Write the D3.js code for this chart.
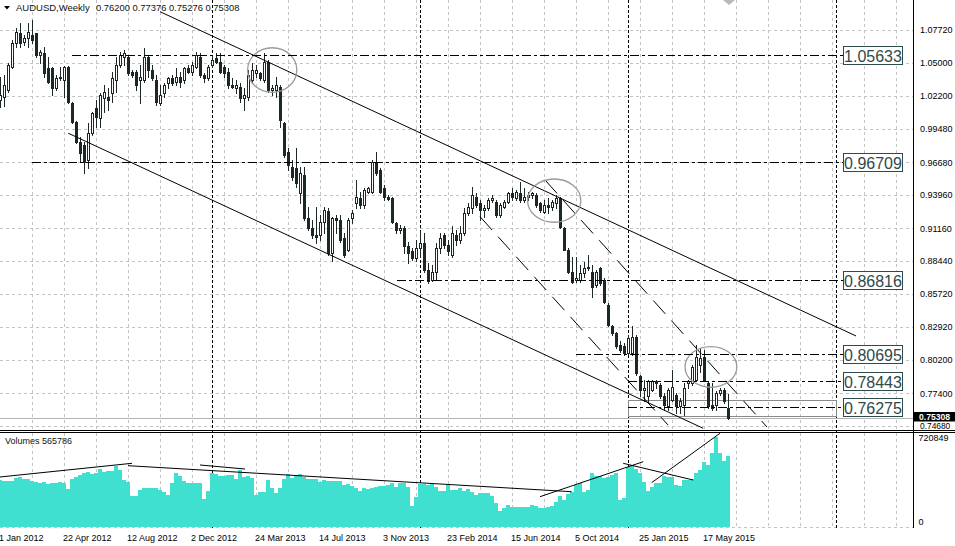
<!DOCTYPE html>
<html><head><meta charset="utf-8">
<script src="https://cdnjs.cloudflare.com/ajax/libs/d3/7.8.5/d3.min.js"></script>
<style>body{margin:0;background:#fff;overflow:hidden}svg{display:block;font-family:"Liberation Sans",Arial,sans-serif}</style>
</head><body><svg id="c" width="955" height="546"></svg>
<script>
// ---- DATA (weekly bars, index 0 = week of 1 Jan 2012) ----
const open=[1.0188,1.0216,1.0271,1.0466,1.0661,1.0744,1.0675,1.0702,1.0730,1.0744,
1.0563,1.0577,1.0452,1.0452,1.0285,1.0369,1.0355,1.0466,1.0160,1.0007,
0.9840,0.9813,0.9688,0.9910,1.0118,1.0035,1.0202,1.0216,1.0244,1.0355,
1.0480,1.0549,1.0549,1.0424,1.0424,1.0355,1.0355,1.0549,1.0438,1.0355,
1.0160,1.0244,1.0327,1.0369,1.0341,1.0383,1.0355,1.0452,1.0424,1.0466,
1.0549,1.0397,1.0369,1.0480,1.0536,1.0508,1.0466,1.0424,1.0313,1.0285,
1.0299,1.0202,1.0216,1.0355,1.0410,1.0410,1.0355,1.0508,1.0271,1.0275,
1.0299,0.9993,0.9757,0.9632,0.9618,0.9410,0.9563,0.9201,0.9118,0.9062,
0.9062,0.9173,0.9257,0.8909,0.9201,0.9187,0.9034,0.8937,0.9201,0.9326,
0.9368,0.9312,0.9423,0.9423,0.9674,0.9604,0.9451,0.9382,0.9368,0.9159,
0.9104,0.9118,0.8965,0.8923,0.8867,0.8951,0.8993,0.8770,0.8687,0.8756,
0.8951,0.9062,0.8979,0.8895,0.9062,0.9020,0.9076,0.9243,0.9284,0.9382,
0.9326,0.9270,0.9284,0.9354,0.9339,0.9228,0.9298,0.9339,0.9409,0.9367,
0.9409,0.9353,0.9381,0.9395,0.9395,0.9325,0.9256,0.9312,0.9298,0.9325,
0.9367,0.9117,0.8936,0.8756,0.8686,0.8686,0.8742,0.8783,0.8756,0.8644,
0.8783,0.8686,0.8477,0.8297,0.8241,0.8144,0.8130,0.8074,0.8074,0.8213,
0.7880,0.7769,0.7713,0.7769,0.7838,0.7810,0.7713,0.7630,0.7685,0.7727,
0.7630,0.7644,0.7824,0.7824,0.7852,0.7977,0.8046,0.7824,0.7644,0.7644,
0.7741,0.7769,0.76200];
const high=[1.0377,1.0397,1.0494,1.0688,1.0786,1.0833,1.0730,1.0827,1.0855,1.0750,
1.0605,1.0633,1.0549,1.0466,1.0397,1.0466,1.0470,1.0475,1.0170,1.0015,
0.9882,0.9840,0.9993,1.0091,1.0188,1.0244,1.0313,1.0285,1.0424,1.0549,
1.0591,1.0605,1.0563,1.0438,1.0438,1.0480,1.0619,1.0563,1.0480,1.0397,
1.0313,1.0327,1.0383,1.0397,1.0452,1.0424,1.0466,1.0480,1.0508,1.0591,
1.0577,1.0410,1.0480,1.0563,1.0577,1.0577,1.0480,1.0452,1.0369,1.0355,
1.0327,1.0285,1.0438,1.0494,1.0480,1.0424,1.0577,1.0522,1.0313,1.0377,
1.0313,1.0007,0.9785,0.9688,0.9785,0.9632,0.9632,0.9298,0.9187,0.9298,
0.9229,0.9298,0.9284,0.9215,0.9229,0.9229,0.9076,0.9201,0.9270,0.9521,
0.9423,0.9451,0.9465,0.9688,0.9757,0.9618,0.9479,0.9396,0.9382,0.9173,
0.9145,0.9132,0.9006,0.8951,0.9020,0.9090,0.9076,0.8826,0.8812,0.8993,
0.9076,0.9076,0.9020,0.9132,0.9104,0.9132,0.9284,0.9326,0.9465,0.9410,
0.9354,0.9312,0.9368,0.9396,0.9353,0.9325,0.9353,0.9423,0.9450,0.9437,
0.9506,0.9450,0.9423,0.9423,0.9409,0.9339,0.9353,0.9367,0.9353,0.9395,
0.9381,0.9131,0.8950,0.8881,0.8881,0.8811,0.8839,0.8895,0.8811,0.8769,
0.8797,0.8700,0.8491,0.8311,0.8255,0.8172,0.8158,0.8227,0.8297,0.8227,
0.7894,0.7852,0.7852,0.7852,0.7852,0.7824,0.7741,0.7783,0.7935,0.7741,
0.7699,0.7824,0.7852,0.7977,0.8144,0.8116,0.8101,0.7838,0.7824,0.7755,
0.7783,0.7783,0.77376];
const low=[1.0132,1.0138,1.0257,1.0452,1.0633,1.0633,1.0647,1.0633,1.0661,1.0550,
1.0494,1.0383,1.0327,1.0230,1.0271,1.0355,1.0216,1.0160,0.9993,0.9830,
0.9674,0.9576,0.9618,0.9896,0.9966,0.9966,1.0091,1.0105,1.0174,1.0257,
1.0466,1.0480,1.0397,1.0383,1.0271,1.0160,1.0341,1.0383,1.0355,1.0146,
1.0146,1.0216,1.0285,1.0313,1.0313,1.0299,1.0327,1.0410,1.0397,1.0452,
1.0383,1.0341,1.0355,1.0466,1.0494,1.0410,1.0383,1.0285,1.0285,1.0244,
1.0174,1.0105,1.0188,1.0327,1.0383,1.0355,1.0341,1.0257,1.0230,1.0216,
0.9966,0.9715,0.9604,0.9521,0.9465,0.9326,0.9187,0.9104,0.9034,0.8993,
0.9020,0.9076,0.8895,0.8840,0.9076,0.9006,0.8881,0.8923,0.9159,0.9284,
0.9284,0.9284,0.9410,0.9410,0.9563,0.9410,0.9354,0.9354,0.9159,0.9076,
0.9076,0.8909,0.8826,0.8854,0.8840,0.8881,0.8756,0.8659,0.8673,0.8687,
0.8909,0.8951,0.8895,0.8881,0.8979,0.8993,0.9062,0.9229,0.9243,0.9298,
0.9187,0.9215,0.9270,0.9340,0.9214,0.9214,0.9284,0.9325,0.9353,0.9353,
0.9339,0.9339,0.9353,0.9367,0.9298,0.9256,0.9242,0.9242,0.9270,0.9284,
0.9117,0.8936,0.8742,0.8658,0.8672,0.8672,0.8714,0.8769,0.8547,0.8630,
0.8644,0.8491,0.8297,0.8227,0.8116,0.8088,0.8060,0.8060,0.8060,0.7894,
0.7713,0.7671,0.7657,0.7755,0.7783,0.7699,0.7602,0.7602,0.7671,0.7574,
0.7574,0.7560,0.7783,0.7810,0.7838,0.7921,0.7838,0.7616,0.7602,0.7602,
0.7727,0.7657,0.75276];
const close=[1.0230,1.0313,1.0480,1.0661,1.0758,1.0661,1.0702,1.0758,1.0688,1.0563,
1.0591,1.0410,1.0341,1.0285,1.0369,1.0383,1.0466,1.0174,1.0007,0.9840,
0.9743,0.9674,0.9910,1.0077,1.0049,1.0230,1.0257,1.0188,1.0369,1.0480,
1.0563,1.0577,1.0410,1.0397,1.0313,1.0383,1.0549,1.0438,1.0369,1.0174,
1.0230,1.0313,1.0369,1.0327,1.0383,1.0341,1.0452,1.0424,1.0480,1.0563,
1.0397,1.0369,1.0466,1.0522,1.0508,1.0424,1.0410,1.0313,1.0299,1.0313,
1.0202,1.0230,1.0397,1.0438,1.0438,1.0369,1.0508,1.0271,1.0285,1.0313,
1.0021,0.9729,0.9646,0.9549,0.9493,0.9576,0.9201,0.9118,0.9062,0.9048,
0.9173,0.9270,0.8909,0.9201,0.9187,0.9020,0.8895,0.9187,0.9243,0.9382,
0.9312,0.9437,0.9451,0.9674,0.9576,0.9423,0.9382,0.9360,0.9173,0.9104,
0.9118,0.8965,0.8909,0.8867,0.8951,0.8993,0.8770,0.8673,0.8756,0.8951,
0.9034,0.8979,0.8923,0.9076,0.9020,0.9076,0.9243,0.9298,0.9396,0.9312,
0.9270,0.9284,0.9354,0.9368,0.9228,0.9312,0.9339,0.9409,0.9381,0.9423,
0.9353,0.9381,0.9395,0.9409,0.9312,0.9270,0.9312,0.9298,0.9339,0.9367,
0.9131,0.8936,0.8756,0.8672,0.8700,0.8742,0.8783,0.8797,0.8630,0.8756,
0.8658,0.8505,0.8311,0.8241,0.8130,0.8101,0.8074,0.8200,0.8213,0.7907,
0.7769,0.7783,0.7838,0.7838,0.7824,0.7713,0.7644,0.7769,0.7796,0.7630,
0.7671,0.7783,0.7838,0.7963,0.8046,0.8032,0.7852,0.7630,0.7616,0.7741,
0.7769,0.7671,0.75308];
const volume=[376000,371000,371000,371000,390000,403000,382000,382000,371000,363000,
350000,360000,344000,350000,350000,363000,355000,302000,382000,398000,
417000,430000,443000,422000,430000,462000,443000,451000,451000,489000,
457000,376000,363000,248000,248000,296000,310000,310000,315000,310000,
296000,283000,256000,350000,430000,408000,371000,355000,350000,355000,
350000,222000,291000,430000,424000,408000,408000,417000,417000,382000,
457000,403000,408000,390000,256000,283000,283000,376000,310000,275000,
310000,382000,424000,390000,417000,422000,403000,382000,382000,382000,
363000,376000,368000,368000,368000,371000,336000,344000,328000,310000,
291000,310000,302000,310000,318000,328000,328000,336000,350000,323000,
355000,350000,323000,168000,238000,344000,344000,336000,350000,318000,
291000,291000,344000,296000,296000,310000,291000,302000,283000,256000,
270000,270000,270000,248000,195000,131000,150000,176000,163000,158000,
158000,158000,158000,176000,168000,150000,150000,158000,168000,203000,
248000,216000,264000,283000,336000,350000,283000,296000,430000,408000,
408000,390000,403000,417000,435000,216000,230000,483000,497000,462000,
430000,363000,291000,323000,350000,355000,408000,403000,398000,336000,
328000,376000,376000,382000,435000,457000,523000,497000,595000,720849,
590000,531000,565786];
const priceTicks=[1.0772,1.0500,1.0220,0.9948,0.9668,0.9396,0.9116,0.8844,0.8572,0.8292,0.8020,0.7740,0.7468];
const volumeTicks=[720849,0];
const dateTickWeeks=[0,16,32,48,64,80,96,112,128,144,160,176];
const dateTickLabels=["1 Jan 2012","22 Apr 2012","12 Aug 2012","2 Dec 2012","24 Mar 2013","14 Jul 2013","3 Nov 2013","23 Feb 2014","15 Jun 2014","5 Oct 2014","25 Jan 2015","17 May 2015"];
const levelPrices=[1.05633,0.96709,0.86816,0.80695,0.78443,0.76275];
const levelStartWeeks=[18,8,99.25,144,157,157];
const channelLines=[[40,1.0925,214,0.8218],[17.08,0.9910,175.8,0.7447]];
const dashedLines=[[120,0.9214,167,0.7475],[136.25,0.9520,191.75,0.7458]];
const ellipses=[[61.9,74.2,1.0624,1.0252],[131.9,145.2,0.9528,0.9167],[171.25,184.2,0.8129,0.7790]];
const zoneRect=[157,209,0.7685,0.7554];
const volumeLines=[[0,400472,33,510201],[32,490977,142.9,282733],[50,496585,61.25,464547],[135,242686,160.8,523016],[155.8,510201,173.3,376443],[162.9,354818,180,750484]];
const lastBid=0.75308;

// ---- DRAWING ----
const svg=d3.select("#c");
const AX=913;
const INK="#1c2828";
const x=d3.scaleLinear().domain([0,1]).range([0,4]);
const y=d3.scaleLinear().domain([0.7468,1.0772]).range([425.8,30]);
const yv=d3.scaleLinear().domain([0,720849]).range([527,437]);
const defs=svg.append("defs");
defs.append("clipPath").attr("id","cp").append("rect").attr("x",0).attr("y",0).attr("width",AX).attr("height",430);
defs.append("clipPath").attr("id","cv").append("rect").attr("x",0).attr("y",433).attr("width",AX).attr("height",95);

const grid=svg.append("g").attr("shape-rendering","crispEdges").attr("stroke","#c3c3c3").attr("stroke-dasharray","3,3");
priceTicks.forEach(t=>{const yy=Math.round(y(t))+0.5;grid.append("line").attr("x1",0).attr("x2",AX).attr("y1",yy).attr("y2",yy);});
const gridWeeks=d3.range(8,229,8);
gridWeeks.forEach(w=>{const xx=Math.round(x(w))+0.5;
 grid.append("line").attr("x1",xx).attr("x2",xx).attr("y1",0).attr("y2",430);
 grid.append("line").attr("x1",xx).attr("x2",xx).attr("y1",433).attr("y2",527);});
grid.append("line").attr("x1",0).attr("x2",AX).attr("y1",527.5).attr("y2",527.5);

// year separators
const base=new Date(2012,0,1);
const dOf=w=>d3.timeWeek.offset(base,w);
const sep=svg.append("g").attr("stroke","#000").attr("stroke-dasharray","3,2").attr("shape-rendering","crispEdges");
d3.range(1,229).forEach(w=>{if(dOf(w).getFullYear()!==dOf(w-1).getFullYear()){const xx=Math.round(x(w))+0.5;
 sep.append("line").attr("x1",xx).attr("x2",xx).attr("y1",0).attr("y2",528);}});

// bid line
svg.append("line").attr("x1",0).attr("x2",AX).attr("y1",Math.round(y(lastBid))+0.5).attr("y2",Math.round(y(lastBid))+0.5).attr("stroke","#b4b4b4").attr("shape-rendering","crispEdges");

const gp=svg.append("g").attr("clip-path","url(#cp)");
// zone rectangle
gp.append("rect").attr("x",Math.round(x(zoneRect[0]))+0.5).attr("y",Math.round(y(zoneRect[2]))+0.5)
 .attr("width",Math.round(x(zoneRect[1])-x(zoneRect[0]))).attr("height",Math.round(y(zoneRect[3])-y(zoneRect[2])))
 .attr("fill","none").attr("stroke","#8a8a8a").attr("shape-rendering","crispEdges");

// candles
const cg=gp.append("g").attr("shape-rendering","crispEdges");
open.forEach((o,i)=>{
 const c=close[i];const cx=Math.round(x(i))+0.5;
 cg.append("line").attr("x1",cx).attr("x2",cx).attr("y1",Math.round(y(high[i]))).attr("y2",Math.round(y(low[i]))+1).attr("stroke",INK);
 const top=Math.round(y(Math.max(o,c))),bot=Math.round(y(Math.min(o,c)));
 if(bot-top<1){cg.append("line").attr("x1",cx-1.5).attr("x2",cx+1.5).attr("y1",top+0.5).attr("y2",top+0.5).attr("stroke",INK);}
 else cg.append("rect").attr("x",cx-1).attr("y",top+0.5).attr("width",2).attr("height",bot-top).attr("fill",c>=o?"#fff":INK).attr("stroke",INK);
});

// trend lines
channelLines.forEach(l=>gp.append("line").attr("x1",x(l[0])).attr("y1",y(l[1])).attr("x2",x(l[2])).attr("y2",y(l[3])).attr("stroke","#000").attr("stroke-width",1));
dashedLines.forEach(l=>gp.append("line").attr("x1",x(l[0])).attr("y1",y(l[1])).attr("x2",x(l[2])).attr("y2",y(l[3])).attr("stroke","#000").attr("stroke-dasharray","18,9"));
ellipses.forEach(e=>gp.append("ellipse").attr("cx",(x(e[0])+x(e[1]))/2).attr("cy",(y(e[2])+y(e[3]))/2)
 .attr("rx",(x(e[1])-x(e[0]))/2).attr("ry",(y(e[3])-y(e[2]))/2).attr("fill","none").attr("stroke","#9a9a9a").attr("stroke-width",1.3));

// level lines + labels
levelPrices.forEach((p,i)=>{const yy=Math.round(y(p))+0.5;
 svg.append("line").attr("x1",x(levelStartWeeks[i])).attr("x2",843).attr("y1",yy).attr("y2",yy).attr("stroke","#000").attr("stroke-dasharray","9,3,3,3").attr("shape-rendering","crispEdges");
 svg.append("rect").attr("x",843.5).attr("y",yy-9).attr("width",59).attr("height",18).attr("fill","#fff").attr("stroke","#2f4a4a").attr("shape-rendering","crispEdges");
 svg.append("text").attr("x",873).attr("y",yy+6).attr("text-anchor","middle").attr("font-size",16).attr("fill","#2f4a4a").text(p.toFixed(5));
});

// volumes
const gv=svg.append("g").attr("clip-path","url(#cv)");
gv.selectAll("rect.v").data(volume).enter().append("rect").attr("x",(d,i)=>x(i)-2).attr("width",4)
 .attr("y",d=>Math.round(yv(d))).attr("height",d=>527-Math.round(yv(d))).attr("fill","#40e0d0").attr("shape-rendering","crispEdges");
volumeLines.forEach(l=>gv.append("line").attr("x1",x(l[0])).attr("y1",yv(l[1])).attr("x2",x(l[2])).attr("y2",yv(l[3])).attr("stroke","#000"));

// frames
const fr=svg.append("g").attr("stroke","#000").attr("shape-rendering","crispEdges");
fr.append("line").attr("x1",AX+0.5).attr("x2",AX+0.5).attr("y1",0).attr("y2",528);
fr.append("line").attr("x1",0).attr("x2",955).attr("y1",430.5).attr("y2",430.5);
fr.append("line").attr("x1",0).attr("x2",955).attr("y1",432.5).attr("y2",432.5);

// price axis labels
const fs=9;
priceTicks.forEach((t,i)=>{const last=i===priceTicks.length-1;const yy=last?428.6:y(t)+3.3;
 svg.append("text").attr("x",920).attr("y",yy).attr("font-size",last?8.4:fs).attr("fill","#000").text(t.toFixed(5));});
const by=Math.round(y(lastBid));
svg.append("rect").attr("x",914).attr("y",by-6).attr("width",41).attr("height",9.5).attr("fill","#000");
svg.append("text").attr("x",919).attr("y",by+2.3).attr("font-size",8.6).attr("font-weight","bold").attr("fill","#fff").text(lastBid.toFixed(5));
volumeTicks.forEach(v=>svg.append("text").attr("x",918.5).attr("y",v===0?525:yv(v)+3.5).attr("font-size",fs).attr("fill","#000").text(String(v)));

// date labels
dateTickWeeks.forEach((w,i)=>svg.append("text").attr("x",x(w)-1).attr("y",541).attr("font-size",fs).attr("fill","#000").text(dateTickLabels[i]));

// header
svg.append("path").attr("d","M4,6 L10,6 L7,9.5 Z").attr("fill","#000");
svg.append("text").attr("x",16).attr("y",11).attr("font-size",9.5).attr("fill","#111").text("AUDUSD,Weekly");
svg.append("text").attr("x",96).attr("y",11).attr("font-size",9.4).attr("fill","#111").text([open[182],high[182],low[182],close[182]].map(v=>v.toFixed(5)).join(" "));
svg.append("text").attr("x",5).attr("y",444).attr("font-size",fs).attr("fill","#111").text("Volumes "+volume[volume.length-1]);
// chart shift marker
svg.append("path").attr("d","M723,0 L735,0 L729,5 Z").attr("fill","#b9b9b9");
</script></body></html>
